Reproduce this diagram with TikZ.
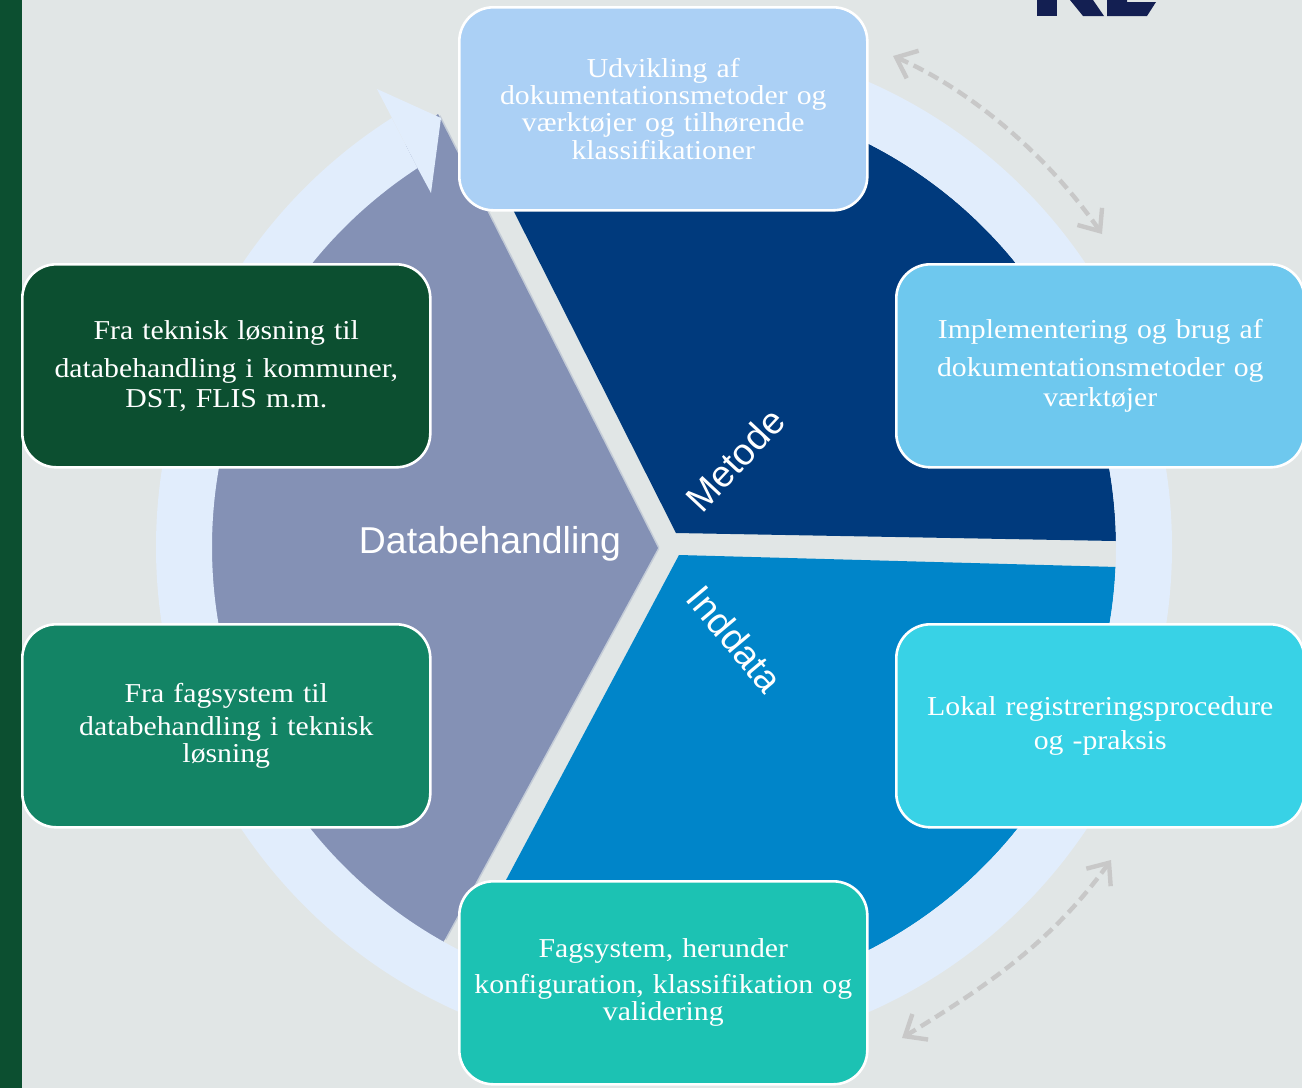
\documentclass[tikz,border=0pt]{standalone}
\usepackage{fontspec}
\usetikzlibrary{arrows.meta}
\setmainfont{Liberation Serif}
\newfontfamily\boxfont[FakeStretch=1.09]{Liberation Serif}
\newfontfamily\labfont{Liberation Sans}
\definecolor{bgc}{HTML}{E1E6E6}
\definecolor{ringc}{HTML}{E1EDFC}
\definecolor{navyc}{HTML}{003A7D}
\definecolor{bluec}{HTML}{0085C9}
\definecolor{grayc}{HTML}{8491B5}
\definecolor{stripc}{HTML}{0C4F30}
\definecolor{logoc}{HTML}{131F52}
\definecolor{dashc}{HTML}{C8C8C8}
\definecolor{topc}{HTML}{ABD0F5}
\definecolor{r1c}{HTML}{6EC8EE}
\definecolor{r2c}{HTML}{38D2E6}
\definecolor{botc}{HTML}{1CC2B3}
\definecolor{l2c}{HTML}{138465}
\tikzset{
  infobox/.style={draw=white,line width=2.6pt,rounded corners=34pt,minimum width=408pt,minimum height=203pt,
    inner sep=0pt,text=white,align=center,anchor=north west,text width=390pt,
    font=\boxfont\fontsize{27.3}{27.4}\selectfont},
  widebox/.style={infobox,font=\boxfont\fontsize{27.3}{30}\selectfont},
  textdown/.style={execute at begin node={\vspace*{#1}}},
  seclabel/.style={text=white,inner sep=0pt,font=\labfont\fontsize{37.4}{40}\selectfont},
  shadowline/.style={line width=3.2pt,color=grayc,opacity=.3},
  cyclearrow/.style={draw=dashc,line width=4.4pt,dash pattern=on 11pt off 6pt,
    {Straight Barb[length=18pt,width=30pt,line width=4.4pt]}-{Straight Barb[length=18pt,width=30pt,line width=4.4pt]}},
}
\begin{document}
\begin{tikzpicture}[x=1pt,y=-1pt]
\useasboundingbox (0,0) rectangle (1302,1088);
\fill[bgc] (0,0) rectangle (1302,1088);
\fill[stripc] (0,0) rectangle (22,1088);
% logo fragment
\fill[logoc] (1037,0) -- (1057,0) -- (1057,16) -- (1037,16) -- cycle;
\fill[logoc] (1070,0) -- (1083,16) -- (1104,16) -- (1093,0) -- cycle;
\fill[logoc] (1107,0) -- (1127,0) -- (1127,2) -- (1156,2) -- (1147,16) -- (1107,16) -- cycle;
% pie
\begin{scope}
  \clip (664,547) circle (452);
  \fill[navyc] (676,533) -- (435,55) -- (1300,-100) -- (1300,543) -- (1116,541) -- cycle;
  \fill[bluec] (679,555) -- (1300,572) -- (1300,1200) -- (340,1192) -- cycle;
\end{scope}
\draw[shadowline] (658,548) -- (439,116);
\draw[shadowline] (658,548) -- (445,939);
\begin{scope}
  \clip (658,548) -- (438,114) -- (400,150) -- (-100,150) -- (-100,1100) -- (317,1174) -- cycle;
  \fill[grayc] (664,547) circle (490);
\end{scope}
% ring
\begin{scope}
  \clip (664,547) -- (417,167) -- (380,95) -- (360,-50) -- (-50,-50) -- (-50,1150) -- (1350,1150) -- (1350,-50) -- (640,-50) -- cycle;
  \fill[ringc,even odd rule] (664,547) circle (508) (664,547) circle (452);
\end{scope}
\fill[ringc] (377,89) -- (441,118) -- (431,193) -- (417,167) -- (391,116) -- cycle;
% section labels
\node[seclabel] (db) at (490,544) {Databehandling};
\node[seclabel,rotate=47] (me) at (735,460) {Metode};
\node[seclabel,rotate=-50] (ind) at (735,639) {Inddata};
% boxes
\node[infobox,fill=topc] (top) at (458,6) {Udvikling af\\dokumentationsmetoder og\\værktøjer og tilhørende\\klassifikationer};
\node[widebox,fill=r1c,textdown=8pt] (r1) at (895,263) {Implementering og brug af\\dokumentationsmetoder og\\værktøjer};
\node[infobox,fill=r2c,textdown=6pt] (r2) at (895,623) {Lokal registreringsprocedure\\og -praksis};
\node[infobox,fill=botc,textdown=8pt] (bot) at (458,880) {Fagsystem, herunder\\konfiguration, klassifikation og\\validering};
\node[infobox,fill=l2c,textdown=6pt] (l2) at (21,623) {Fra fagsystem til\\databehandling i teknisk\\løsning};
\node[widebox,fill=stripc,textdown=8pt] (l1) at (21,263) {Fra teknisk løsning til\\databehandling i kommuner,\\DST, FLIS m.m.};
% dashed arrows
\coordinate (a1) at (893,56);
\coordinate (a2) at (1102,234);
\coordinate (b1) at (1111,860);
\coordinate (b2) at (902,1038);
\draw[cyclearrow] (a1) .. controls (960,85) and (1040,145) .. (a2);
\draw[cyclearrow] (b1) .. controls (1050,945) and (980,990) .. (b2);
\end{tikzpicture}
\end{document}
